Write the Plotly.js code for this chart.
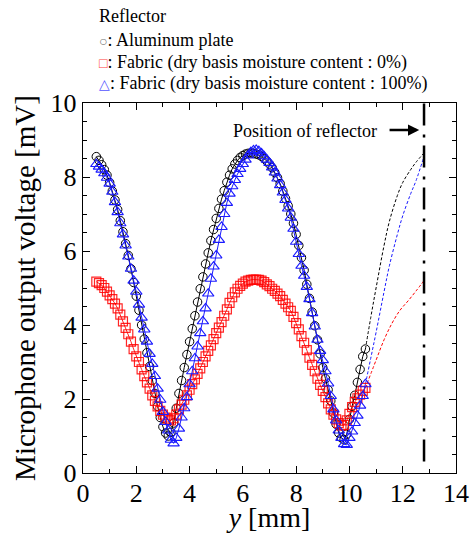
<!DOCTYPE html>
<html>
<head>
<meta charset="utf-8">
<script src="https://cdn.plot.ly/plotly-3.0.1.min.js"></script>
<style>html,body{margin:0;padding:0;background:#fff;}#chart{width:473px;height:533px;}</style>
</head>
<body>
<div id="chart"></div>
<script>
// position y [mm]
var posY = [0.5,0.6,0.7,0.8,0.9,1.0,1.1,1.2,1.3,1.4,
  1.5,1.6,1.7,1.8,1.9,2.0,2.1,2.2,2.3,2.4,
  2.5,2.6,2.7,2.8,2.9,3.0,3.1,3.2,3.3,3.4,
  3.5,3.6,3.7,3.8,3.9,4.0,4.1,4.2,4.3,4.4,
  4.5,4.6,4.7,4.8,4.9,5.0,5.1,5.2,5.3,5.4,
  5.5,5.6,5.7,5.8,5.9,6.0,6.1,6.2,6.3,6.4,
  6.5,6.6,6.7,6.8,6.9,7.0,7.1,7.2,7.3,7.4,
  7.5,7.6,7.7,7.8,7.9,8.0,8.1,8.2,8.3,8.4,
  8.5,8.6,8.7,8.8,8.9,9.0,9.1,9.2,9.3,9.4,
  9.5,9.6,9.7,9.8,9.9,10.0,10.1,10.2,10.3,10.4,
  10.5,10.6];

// Aluminum plate (circles)
var aluminum = [8.55,8.45,8.33,8.2,8.05,7.85,7.62,7.38,7.12,6.82,
  6.52,6.2,5.88,5.52,5.15,4.78,4.4,4.0,3.62,3.25,
  2.88,2.5,2.15,1.8,1.5,1.25,1.08,1.0,1.1,1.35,
  1.75,2.15,2.5,2.85,3.2,3.55,3.9,4.25,4.62,4.98,
  5.3,5.65,5.95,6.28,6.58,6.88,7.15,7.4,7.63,7.86,
  8.05,8.22,8.35,8.45,8.53,8.58,8.62,8.64,8.65,8.64,
  8.62,8.6,8.56,8.5,8.43,8.35,8.25,8.12,7.98,7.82,
  7.62,7.42,7.22,7.0,6.75,6.45,6.15,5.82,5.48,5.1,
  4.72,4.35,3.98,3.6,3.22,2.85,2.55,2.25,1.95,1.62,
  1.32,1.08,0.95,0.9,1.05,1.45,1.8,2.1,2.45,2.8,
  3.15,3.35];

// Fabric, moisture 0% (squares)
var fabricDry = [5.17,5.13,5.08,5.0,4.9,4.8,4.7,4.58,4.45,4.28,
  4.1,3.92,3.75,3.55,3.35,3.15,3.0,2.8,2.62,2.45,
  2.28,2.1,1.95,1.8,1.68,1.58,1.5,1.45,1.42,1.48,
  1.58,1.72,1.85,1.98,2.1,2.25,2.4,2.53,2.68,2.83,
  3.0,3.15,3.3,3.45,3.62,3.78,3.93,4.08,4.25,4.42,
  4.6,4.75,4.88,4.98,5.06,5.12,5.17,5.2,5.22,5.23,
  5.23,5.22,5.2,5.16,5.1,5.05,4.98,4.92,4.85,4.78,
  4.68,4.58,4.48,4.38,4.22,4.05,3.88,3.7,3.52,3.32,
  3.12,2.92,2.75,2.55,2.38,2.22,2.05,1.88,1.72,1.58,
  1.45,1.35,1.28,1.3,1.42,1.6,1.78,1.92,2.02,2.12,
  2.22,2.3];

// Fabric, moisture 100% (triangles)
var fabricWet = [8.35,8.28,8.2,8.1,7.98,7.82,7.6,7.32,7.05,6.75,
  6.45,6.15,5.85,5.52,5.2,4.9,4.55,4.2,3.88,3.55,
  3.22,2.95,2.62,2.28,1.98,1.65,1.38,1.15,0.9,0.8,
  0.95,1.2,1.5,1.75,2.05,2.4,2.75,3.1,3.42,3.78,
  4.1,4.45,4.85,5.25,5.58,5.88,6.3,6.65,7.0,7.3,
  7.55,7.75,7.92,8.08,8.22,8.35,8.47,8.58,8.67,8.72,
  8.73,8.7,8.64,8.56,8.47,8.38,8.26,8.12,7.96,7.78,
  7.58,7.38,7.15,6.9,6.6,6.25,5.92,5.6,5.33,5.03,
  4.7,4.32,3.96,3.6,3.3,3.05,2.75,2.42,2.08,1.72,
  1.42,1.15,0.95,0.78,0.76,0.95,1.12,1.35,1.55,1.82,
  2.08,2.4];

// dashed continuations toward the reflector
var alExtX = [10.6,10.8,11.0,11.3,11.5,11.8,12.0,12.3,12.5,12.8];
var alExtY = [3.35,4.2,5.0,6.15,6.8,7.5,7.85,8.2,8.4,8.65];
var wetExtX = [10.6,10.8,11.0,11.3,11.5,11.8,12.0,12.3,12.5,12.8];
var wetExtY = [2.4,3.1,3.8,4.9,5.6,6.45,6.95,7.55,7.9,8.56];
var dryExtX = [10.6,11.0,11.3,11.6,11.9,12.2,12.5,12.8];
var dryExtY = [2.3,3.05,3.6,4.05,4.4,4.65,4.92,5.2];

// reflector position
var reflectorX = [12.8,12.8];
var reflectorY = [0.31,10];

var xTicks = [0,2,4,6,8,10,12,14];
var yTicks = [0,2,4,6,8,10];

var FONT = '"Liberation Serif", "Times New Roman", serif';
var BLACK = '#000000';
var RED = 'rgba(255,0,0,0.85)';
var BLUE = '#1a1aff';

var traces = [
  {x: alExtX, y: alExtY, mode: 'lines', line: {color: BLACK, width: 1, dash: '3px,2px', shape: 'spline'}, hoverinfo: 'skip'},
  {x: wetExtX, y: wetExtY, mode: 'lines', line: {color: BLUE, width: 1, dash: '3px,2px', shape: 'spline'}, hoverinfo: 'skip'},
  {x: dryExtX, y: dryExtY, mode: 'lines', line: {color: 'red', width: 1, dash: '3px,2px', shape: 'spline'}, hoverinfo: 'skip'},
  {x: reflectorX, y: reflectorY, mode: 'lines', line: {color: BLACK, width: 2.5, dash: '22px,8px,3px,9px'}, hoverinfo: 'skip'},
  {x: posY, y: aluminum, mode: 'lines+markers', line: {color: BLACK, width: 1},
   marker: {symbol: 'circle-open', size: 8.5, color: BLACK, line: {width: 1}}},
  {x: posY, y: fabricDry, mode: 'lines+markers', line: {color: RED, width: 1},
   marker: {symbol: 'square-open', size: 9, color: RED, line: {width: 1.2}}},
  {x: posY, y: fabricWet, mode: 'lines+markers', line: {color: BLUE, width: 1},
   marker: {symbol: 'triangle-up-open', size: 10, color: BLUE, line: {width: 1.1}}}
];

function legendLine(y, html) {
  return {xref: 'paper', yref: 'paper', x: 0.037, y: y, xanchor: 'left', yanchor: 'middle',
    showarrow: false, text: html, font: {family: FONT, size: 18, color: '#000'}, align: 'left'};
}

var layout = {
  width: 473, height: 533,
  margin: {l: 83, r: 17, t: 103, b: 60},
  paper_bgcolor: '#fff', plot_bgcolor: '#fff',
  showlegend: false,
  font: {family: FONT, color: '#000'},
  xaxis: {
    range: [0, 14], tickvals: xTicks, ticktext: xTicks.map(String),
    ticks: 'inside', ticklen: 7, tickwidth: 1, tickcolor: '#000',
    showline: true, linecolor: '#000', linewidth: 1.2, mirror: 'allticks',
    showgrid: false, zeroline: false,
    minor: {dtick: 1, ticks: 'inside', ticklen: 4, tickcolor: '#000', showgrid: false},
    tickfont: {family: FONT, size: 26, color: '#000'},
    ticklabelstandoff: -3,
    title: {text: '<i>y</i> [mm]', font: {family: FONT, size: 28, color: '#000'}, standoff: 11}
  },
  yaxis: {
    range: [0, 10], tickvals: yTicks, ticktext: yTicks.map(String),
    ticks: 'inside', ticklen: 7, tickwidth: 1, tickcolor: '#000',
    showline: true, linecolor: '#000', linewidth: 1.2, mirror: 'allticks',
    showgrid: false, zeroline: false,
    minor: {dtick: 0.5, ticks: 'inside', ticklen: 4, tickcolor: '#000', showgrid: false},
    tickfont: {family: FONT, size: 26, color: '#000'},
    title: {text: 'Microphone output voltage [mV]', font: {family: FONT, size: 29, color: '#000'}, standoff: 6}
  },
  annotations: [
    legendLine(1.234, 'Reflector'),
    legendLine(1.169, '<span style="color:#777777;font-size:14px">○</span>: Aluminum plate'),
    legendLine(1.110, '<span style="color:#ff4040;font-size:14px">□</span>: Fabric (dry basis moisture content : 0%)'),
    legendLine(1.054, '<span style="color:#5555ff;font-size:14px">△</span>: Fabric (dry basis moisture content : 100%)'),
    {xref: 'x', yref: 'y', x: 8.35, y: 9.23, xanchor: 'center', yanchor: 'middle', showarrow: false,
     text: 'Position of reflector', font: {family: FONT, size: 18, color: '#000'}},
    {xref: 'x', yref: 'y', axref: 'x', ayref: 'y', x: 12.62, y: 9.27, ax: 11.45, ay: 9.27, text: '',
     showarrow: true, arrowhead: 2, arrowsize: 0.9, arrowwidth: 2.5, arrowcolor: '#000'}
  ]
};

Plotly.newPlot('chart', traces, layout, {staticPlot: true, displayModeBar: false});
</script>
</body>
</html>
